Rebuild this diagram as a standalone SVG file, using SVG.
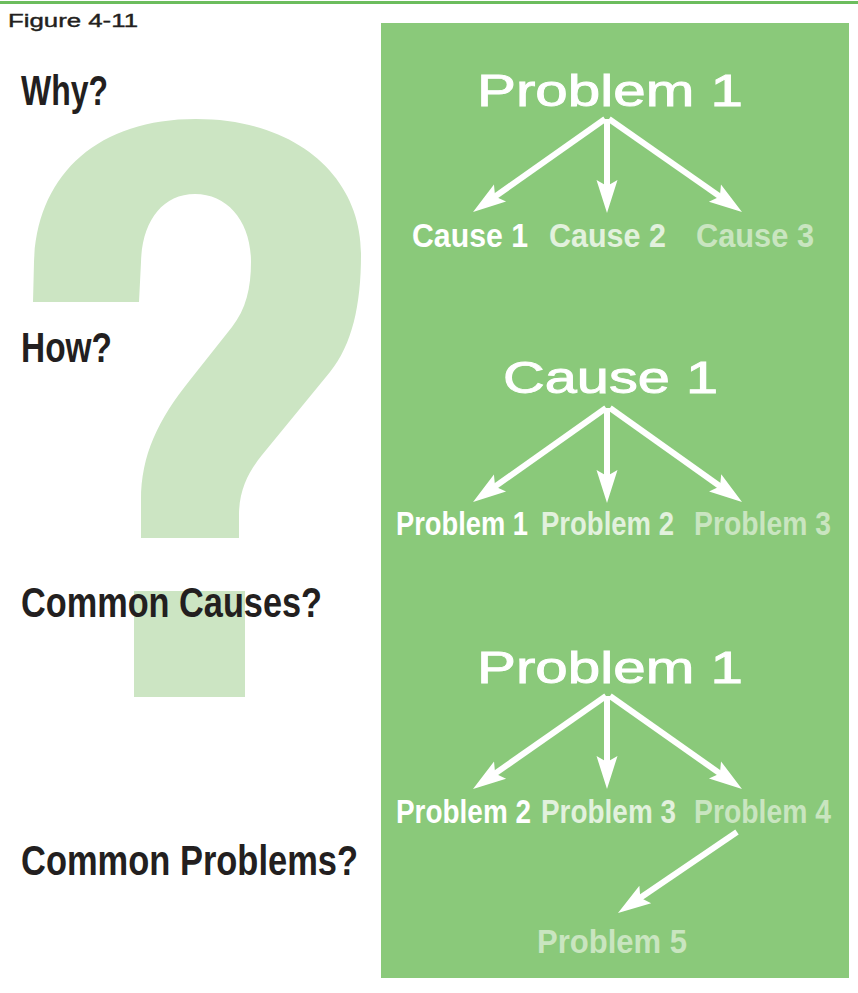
<svg xmlns="http://www.w3.org/2000/svg" width="858" height="993" viewBox="0 0 858 993">
  <style>
    .side { font-family: "Liberation Sans Narrow", "Liberation Sans", Arial, sans-serif; font-weight: bold; font-size: 42px; fill: #231f20; }
    .title { font-family: "Liberation Sans", Arial, sans-serif; font-size: 45px; fill: #ffffff; stroke: #ffffff; stroke-width: 0.9px; }
    .lbl { font-family: "Liberation Sans Narrow", "Liberation Sans", Arial, sans-serif; font-weight: bold; font-size: 33px; }
    .c0 { fill: #ffffff; }
    .c1 { fill: #e2f1dd; }
    .c2 { fill: #c9e5c0; }
    .arrow { stroke: #ffffff; stroke-width: 6; fill: none; marker-end: url(#head); }
  </style>
  <defs>
    <marker id="head" markerUnits="userSpaceOnUse" viewBox="-20 -12 36 24" markerWidth="36" markerHeight="24" refX="0" refY="0" orient="auto">
      <path d="M15,0 L-18,-10.5 L-12,0 L-18,10.5 Z" fill="#ffffff"/>
    </marker>
  </defs>
  <rect x="0" y="0" width="858" height="993" fill="#ffffff"/>
  <line x1="0" y1="2.5" x2="858" y2="2.5" stroke="#6cbd5d" stroke-width="3"/>
  <text x="8" y="27" font-family="Liberation Sans, Arial, sans-serif" font-size="18" fill="#231f20" stroke="#231f20" stroke-width="0.4" textLength="130" lengthAdjust="spacingAndGlyphs">Figure 4-11</text>

  <g id="question-mark" fill="#cce5c3">
    <path d="M33,302 L34,262 C37,175 97,119 196,119 C300,119 362,180 361,255 C361,305 352,345 330,372 L262,455 C250,470 239,488 239,515 L239,538 L141,538 L141,500 C141,455 158,420 190,380 L232,327 C246,309 251,288 251,262 C251,222 228,194 195,194 C162,194 142,222 141,262 L139,302 Z"/>
    <rect x="134" y="591" width="111" height="106"/>
  </g>

  <rect id="panel" x="381" y="23" width="468" height="955" fill="#8ac97a"/>

  <g id="side-labels">
    <text class="side" x="21" y="105" textLength="87" lengthAdjust="spacingAndGlyphs">Why?</text>
    <text class="side" x="21" y="362" textLength="91" lengthAdjust="spacingAndGlyphs">How?</text>
    <text class="side" x="21" y="617" textLength="301" lengthAdjust="spacingAndGlyphs">Common Causes?</text>
    <text class="side" x="21" y="875" textLength="337" lengthAdjust="spacingAndGlyphs">Common Problems?</text>
  </g>

  <g id="connectors">
    <line class="arrow" x1="605" y1="119" x2="485.3" y2="203.4"/>
    <line class="arrow" x1="607" y1="119" x2="607" y2="198"/>
    <line class="arrow" x1="609" y1="119" x2="729.7" y2="203.4"/>

    <line class="arrow" x1="606" y1="408" x2="485.3" y2="493.4"/>
    <line class="arrow" x1="607" y1="408" x2="607" y2="488"/>
    <line class="arrow" x1="610" y1="408" x2="729.8" y2="493.3"/>

    <line class="arrow" x1="606" y1="696" x2="485.3" y2="780.4"/>
    <line class="arrow" x1="607" y1="696" x2="607" y2="774"/>
    <line class="arrow" x1="610" y1="696" x2="729.7" y2="780.4"/>

    <line class="arrow" x1="737" y1="832" x2="630.4" y2="904.6"/>
  </g>

  <g id="why-tree">
    <text id="why-problem1" class="title" x="477" y="106" textLength="266" lengthAdjust="spacingAndGlyphs">Problem 1</text>
    <text id="why-cause1" class="lbl c0" x="412" y="247" textLength="116" lengthAdjust="spacingAndGlyphs">Cause 1</text>
    <text id="why-cause2" class="lbl c1" x="549" y="247" textLength="117" lengthAdjust="spacingAndGlyphs">Cause 2</text>
    <text id="why-cause3" class="lbl c2" x="696" y="247" textLength="118" lengthAdjust="spacingAndGlyphs">Cause 3</text>
  </g>

  <g id="how-tree">
    <text id="how-cause1" class="title" x="503" y="393" textLength="215" lengthAdjust="spacingAndGlyphs">Cause 1</text>
    <text id="how-problem1" class="lbl c0" x="396" y="535" textLength="132" lengthAdjust="spacingAndGlyphs">Problem 1</text>
    <text id="how-problem2" class="lbl c1" x="541" y="535" textLength="133" lengthAdjust="spacingAndGlyphs">Problem 2</text>
    <text id="how-problem3" class="lbl c2" x="694" y="535" textLength="137" lengthAdjust="spacingAndGlyphs">Problem 3</text>
  </g>

  <g id="common-tree">
    <text id="cp-problem1" class="title" x="477" y="683" textLength="266" lengthAdjust="spacingAndGlyphs">Problem 1</text>
    <text id="cp-problem2" class="lbl c0" x="396" y="823" textLength="135" lengthAdjust="spacingAndGlyphs">Problem 2</text>
    <text id="cp-problem3" class="lbl c1" x="541" y="823" textLength="135" lengthAdjust="spacingAndGlyphs">Problem 3</text>
    <text id="cp-problem4" class="lbl c2" x="694" y="823" textLength="137" lengthAdjust="spacingAndGlyphs">Problem 4</text>
    <text id="cp-problem5" class="lbl c2" x="537" y="953" textLength="150" lengthAdjust="spacingAndGlyphs">Problem 5</text>
  </g>
</svg>
